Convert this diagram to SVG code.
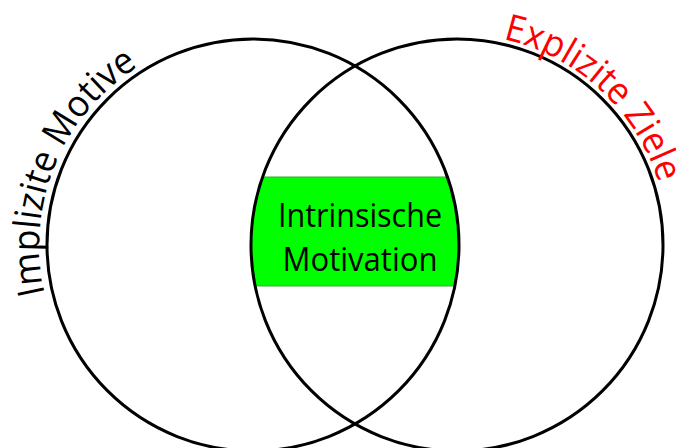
<svg xmlns="http://www.w3.org/2000/svg" width="676" height="448" viewBox="0 0 676 448">
<style>
.ring{fill:none;stroke:#000;stroke-width:3}
.lbl{font-family:"Open Sans","Liberation Sans",sans-serif;font-size:37px}
.mid{font-family:"Open Sans","Liberation Sans",sans-serif;font-size:33px;fill:#000}
</style>
<defs>
<clipPath id="clipL"><circle cx="253" cy="245" r="206"/></clipPath>
<clipPath id="clipR"><circle cx="457" cy="245" r="206"/></clipPath>
<path id="arcL" d="M 44.7 293.7 A 211 211 0 0 1 216.4 37.2"/>
<path id="arcR" d="M 503 39 A 211 211 0 0 1 668 245"/>
</defs>
<rect width="676" height="448" fill="#fff"/>
<g id="intersection">
<g clip-path="url(#clipL)">
<rect x="240" y="177" width="230" height="109" fill="#00ff00" stroke="#3fa83f" stroke-width="1" clip-path="url(#clipR)"/>
</g>
<text class="mid" x="360" y="227" text-anchor="middle" textLength="164" lengthAdjust="spacingAndGlyphs">Intrinsische</text>
<text class="mid" x="360" y="271" text-anchor="middle" textLength="155" lengthAdjust="spacingAndGlyphs">Motivation</text>
</g>
<g id="implizite-motive">
<circle class="ring" cx="253" cy="245" r="206"/>
<text class="lbl" fill="#000"><textPath href="#arcL" textLength="262" lengthAdjust="spacingAndGlyphs">Implizite Motive</textPath></text>
</g>
<g id="explizite-ziele">
<circle class="ring" cx="457" cy="245" r="206"/>
<text class="lbl" fill="#ff0000"><textPath href="#arcR" textLength="222" lengthAdjust="spacingAndGlyphs">Explizite Ziele</textPath></text>
</g>
</svg>
